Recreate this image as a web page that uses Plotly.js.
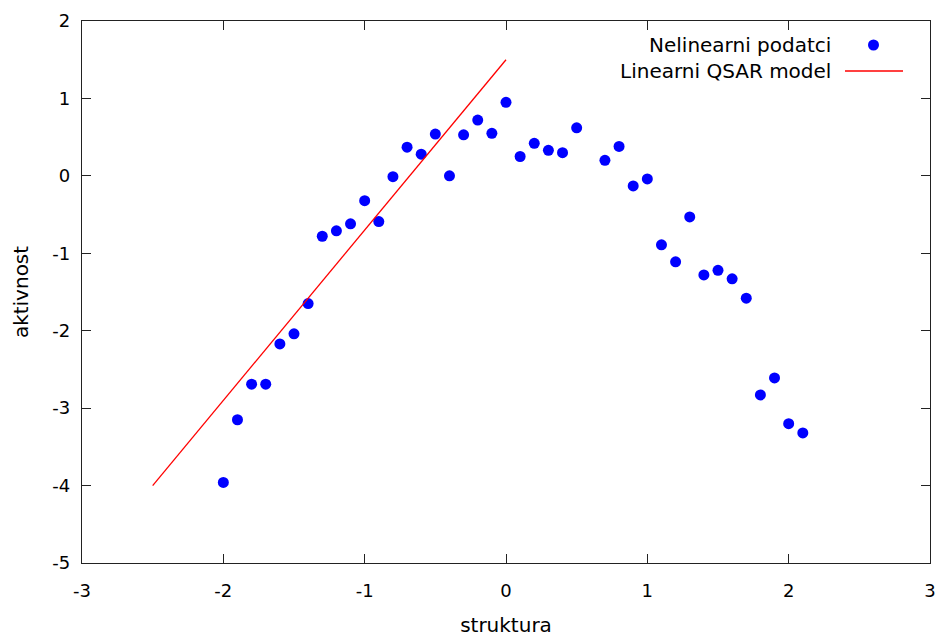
<!DOCTYPE html>
<html>
<head>
<meta charset="utf-8">
<script src="https://cdn.plot.ly/plotly-3.0.1.min.js"></script>
<style>html,body{margin:0;padding:0;background:#fff;}#chart{width:936px;height:637px;}</style>
</head>
<body>
<div id="chart"></div>
<script>
// Data: nonlinear points
const dataX = [-2.0,-1.9,-1.8,-1.7,-1.6,-1.5,-1.4,-1.3,-1.2,-1.1,-1.0,-0.9,-0.8,-0.7,-0.6,-0.5,-0.4,-0.3,-0.2,-0.1,0.0,0.1,0.2,0.3,0.4,0.5,0.7,0.8,0.9,1.0,1.1,1.2,1.3,1.4,1.5,1.6,1.7,1.8,1.9,2.0,2.1];
const dataY = [-3.96,-3.15,-2.69,-2.69,-2.17,-2.04,-1.65,-0.78,-0.71,-0.62,-0.32,-0.59,-0.01,0.37,0.28,0.54,0.0,0.53,0.72,0.55,0.95,0.25,0.42,0.33,0.30,0.62,0.20,0.38,-0.13,-0.04,-0.89,-1.11,-0.53,-1.28,-1.22,-1.33,-1.58,-2.83,-2.61,-3.20,-3.32];
// Linear QSAR model line endpoints
const modelX = [-2.5, 0.0];
const modelY = [-4.0, 1.5];
// Axis ticks
const xTicks = [-3,-2,-1,0,1,2,3];
const yTicks = [-5,-4,-3,-2,-1,0,1,2];
const seriesNames = ["Nelinearni podatci", "Linearni QSAR model"];

const FONT = "DejaVu Sans, sans-serif";
const TXT = 20;
const traces = [
  {x: dataX, y: dataY, type: "scatter", mode: "markers", name: seriesNames[0],
   marker: {color: "#0000ff", size: 11}, showlegend: false, cliponaxis: false},
  {x: modelX, y: modelY, type: "scatter", mode: "lines", name: seriesNames[1],
   line: {color: "#ff0000", width: 1.3}, showlegend: false}
];

const axisCommon = {
  showgrid: false, zeroline: false, showline: true, mirror: "allticks",
  linecolor: "#222", linewidth: 1.2, ticks: "inside", ticklen: 9, tickwidth: 1,
  tickcolor: "#222", tickfont: {family: FONT, size: 18, color: "#000"}
};

const layout = {
  width: 936, height: 637,
  margin: {l: 82, r: 6, t: 21, b: 74},
  paper_bgcolor: "#fff", plot_bgcolor: "#fff",
  font: {family: FONT, size: TXT, color: "#000"},
  xaxis: Object.assign({}, axisCommon, {range: [-3, 3], tickvals: xTicks, ticktext: xTicks.map(String),
    title: {text: "struktura", font: {family: FONT, size: TXT}, standoff: 23}, ticklabelstandoff: 11}),
  yaxis: Object.assign({}, axisCommon, {range: [-5, 2], tickvals: yTicks, ticktext: yTicks.map(String),
    title: {text: "aktivnost", font: {family: FONT, size: TXT}, standoff: 18}, ticklabelstandoff: 7}),
  annotations: [
    {xref: "paper", yref: "paper", x: (833-82)/848, y: (563-45)/542, xanchor: "right", yanchor: "middle",
     text: seriesNames[0], showarrow: false, font: {family: FONT, size: TXT}},
    {xref: "paper", yref: "paper", x: (833-82)/848, y: (563-71)/542, xanchor: "right", yanchor: "middle",
     text: seriesNames[1], showarrow: false, font: {family: FONT, size: TXT}}
  ],
  shapes: [
    {type: "circle", xref: "paper", yref: "paper",
     x0: (868-82)/848, x1: (879-82)/848, y0: (563-50.5)/542, y1: (563-39.5)/542,
     fillcolor: "#0000ff", line: {width: 0}},
    {type: "line", xref: "paper", yref: "paper",
     x0: (845-82)/848, x1: (903-82)/848, y0: (563-71)/542, y1: (563-71)/542,
     line: {color: "#ff0000", width: 1.3}}
  ]
};

Plotly.newPlot("chart", traces, layout, {displayModeBar: false, staticPlot: true});
</script>
</body>
</html>
